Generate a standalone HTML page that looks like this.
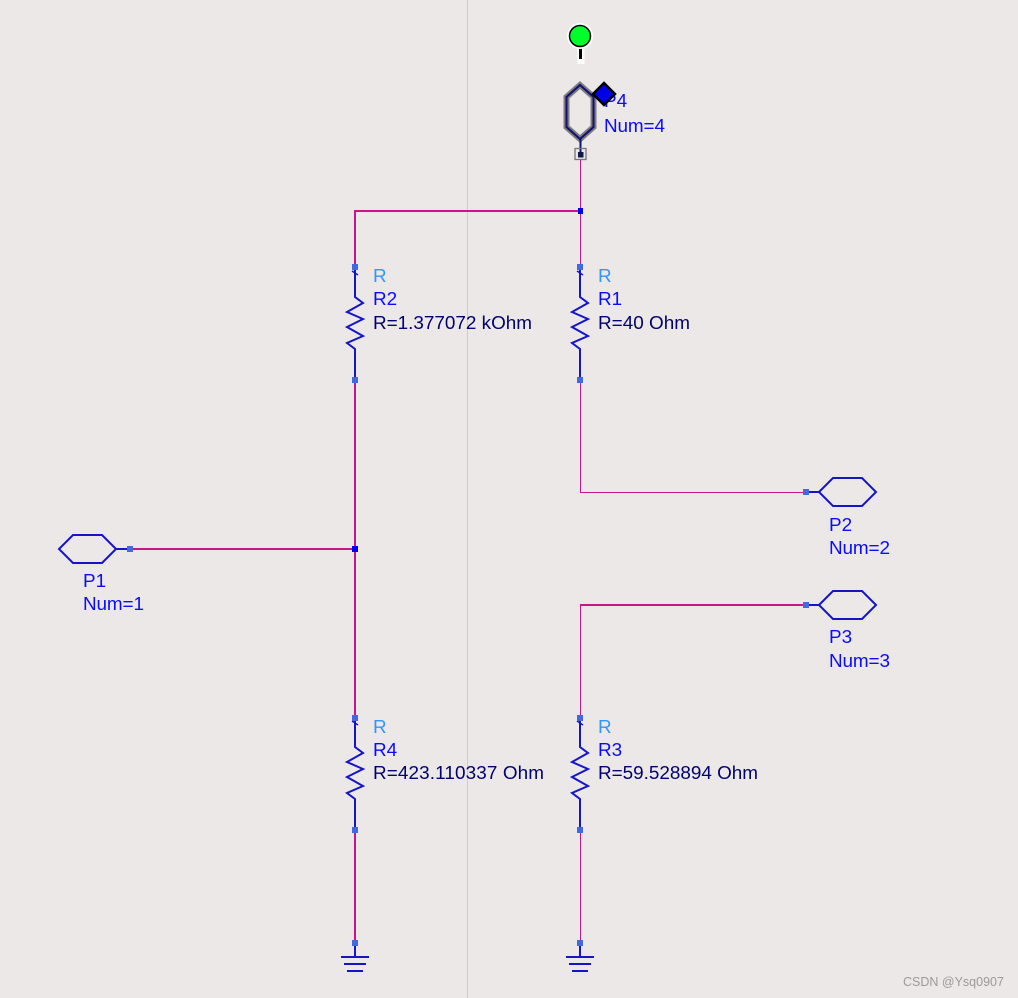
<!DOCTYPE html>
<html><head><meta charset="utf-8"><title>Schematic</title>
<style>
html,body{margin:0;padding:0;background:#ece8e7;width:1018px;height:998px;overflow:hidden}
svg{display:block}
text{font-family:"Liberation Sans",Arial,sans-serif;font-size:18.9px}
.b{fill:#0a0aff}.l{fill:#2f96ff}.d{fill:#00006e}
.w{stroke:#cc1488;fill:none;shape-rendering:crispEdges}
.c{stroke:#1414c8;stroke-width:2;fill:none}
.p{fill:#4169e1}
</style></head><body>
<svg width="1018" height="998" viewBox="0 0 1018 998" xmlns="http://www.w3.org/2000/svg">
<rect width="1018" height="998" fill="#ece8e7"/>
<rect x="467" y="0" width="1" height="998" fill="#cfcdcc"/>

<!-- wires -->
<path class="w" stroke-width="1.4" d="M580.5 160V268M580.5 380V492.5H806"/>
<path class="w" stroke-width="1.4" d="M580.5 605V716M580.5 830V942"/>
<path class="w" stroke-width="2" d="M580 605H806M354 211H580"/>
<path class="w" stroke-width="2" d="M355 210V268M355 380V718M355 830V942M130 549H355"/>

<!-- junctions -->
<rect x="578" y="208" width="5" height="6" fill="#0000f0"/>
<rect x="352" y="546" width="6" height="6" fill="#0000f0"/>

<!-- resistors -->
<g>
<path class="c" d="M355 268V297L363 303L347 312L363 319L347 327L363 336L347 343L355 349V380"/>
<path d="M352 271L358 275" stroke="#1414c8" stroke-width="1.500"/>
<rect class="p" x="352" y="264" width="6" height="6"/><rect class="p" x="352" y="377" width="6" height="6"/>
</g>
<g>
<path class="c" d="M580 268V297L588 303L572 312L588 319L572 327L588 336L572 343L580 349V380"/>
<path d="M577 271L583 275" stroke="#1414c8" stroke-width="1.500"/>
<rect class="p" x="577" y="264" width="6" height="6"/><rect class="p" x="577" y="377" width="6" height="6"/>
</g>
<g>
<path class="c" d="M355 718V747L363 753L347 762L363 769L347 777L363 786L347 793L355 799V830"/>
<path d="M352 721L358 725" stroke="#1414c8" stroke-width="1.500"/>
<rect class="p" x="352" y="715" width="6" height="6"/><rect class="p" x="352" y="827" width="6" height="6"/>
</g>
<g>
<path class="c" d="M580 718V747L588 753L572 762L588 769L572 777L588 786L572 793L580 799V830"/>
<path d="M577 721L583 725" stroke="#1414c8" stroke-width="1.500"/>
<rect class="p" x="577" y="715" width="6" height="6"/><rect class="p" x="577" y="827" width="6" height="6"/>
</g>

<!-- grounds -->
<path class="c" d="M355 942V957M341 957H369M344 964H366M347 971H363"/>
<path class="c" d="M580 942V957M566 957H594M569 964H591M572 971H588"/>
<rect class="p" x="352" y="940" width="6" height="6"/>
<rect class="p" x="577" y="940" width="6" height="6"/>

<!-- ports -->
<path class="c" d="M116 549L102 535H73L59 549L73 563H102ZM116 549H130"/>
<rect class="p" x="127" y="546" width="6" height="6"/>
<path class="c" d="M819 492L833 478H862L876 492L862 506H833ZM819 492H806"/>
<rect class="p" x="803" y="489" width="6" height="6"/>
<path class="c" d="M819 605L833 591H862L876 605L862 619H833ZM819 605H806"/>
<rect class="p" x="803" y="602" width="6" height="6"/>

<!-- P4 selected port -->
<path d="M580 85L593.500 97V127L580 139L566.500 127V97Z" fill="none" stroke="#7e7c80" stroke-width="6"/>
<path d="M580 85L593.500 97V127L580 139L566.500 127V97Z" fill="none" stroke="#10106e" stroke-width="2"/>
<path d="M580.500 139V154" stroke="#10106e" stroke-width="2"/>
<rect x="575" y="148.500" width="11" height="11" fill="none" stroke="#77757a" stroke-width="1.300"/>
<rect x="578" y="152" width="5.500" height="5.500" fill="#10184a"/>

<!-- labels -->
<text class="b" x="604" y="107">P4</text>
<text class="b" x="604" y="132" textLength="61">Num=4</text>

<!-- marker -->
<path d="M581 46V64" stroke="#fff" stroke-width="7"/>
<path d="M580.500 46V59" stroke="#000" stroke-width="3"/>
<circle cx="580" cy="36" r="13" fill="#fff"/>
<circle cx="580" cy="36" r="10.500" fill="#00ff2a" stroke="#000" stroke-width="1.500"/>
<path d="M604 83L615 94L604 105L593 94Z" fill="#0000e6" stroke="#000" stroke-width="2.500" stroke-linejoin="miter"/>

<text class="l" x="373" y="282">R</text>
<text class="b" x="373" y="305">R2</text>
<text class="d" x="373" y="329" textLength="159">R=1.377072 kOhm</text>
<text class="l" x="598" y="282">R</text>
<text class="b" x="598" y="305">R1</text>
<text class="d" x="598" y="329" textLength="92">R=40 Ohm</text>
<text class="l" x="373" y="733">R</text>
<text class="b" x="373" y="756">R4</text>
<text class="d" x="373" y="779" textLength="171">R=423.110337 Ohm</text>
<text class="l" x="598" y="733">R</text>
<text class="b" x="598" y="756">R3</text>
<text class="d" x="598" y="779" textLength="160">R=59.528894 Ohm</text>
<text class="b" x="83" y="587">P1</text>
<text class="b" x="83" y="610" textLength="61">Num=1</text>
<text class="b" x="829" y="531">P2</text>
<text class="b" x="829" y="554" textLength="61">Num=2</text>
<text class="b" x="829" y="643">P3</text>
<text class="b" x="829" y="667" textLength="61">Num=3</text>
<text x="903" y="986" style="font-size:12.500px" fill="#9a9a9a">CSDN @Ysq0907</text>
</svg>
</body></html>
